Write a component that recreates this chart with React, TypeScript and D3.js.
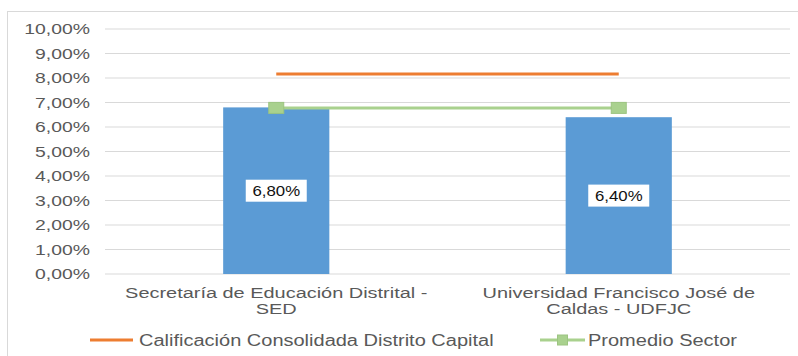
import React from "react";
import * as d3 from "d3";

const categories = ["Secretaría de Educación Distrital - SED", "Universidad Francisco José de Caldas - UDFJC"];
const categoryLines = [["Secretaría de Educación Distrital -", "SED"], ["Universidad Francisco José de", "Caldas - UDFJC"]];
const barValues = [6.8, 6.4];
const barLabels = ["6,80%", "6,40%"];
const consolidada = [8.16, 8.16];
const promedio = [6.78, 6.78];
const yTicks = [0, 1, 2, 3, 4, 5, 6, 7, 8, 9, 10];
const legendNames = ["Calificación Consolidada Distrito Capital", "Promedio Sector"];

const W = 798, H = 356;
const FONT = "'Liberation Sans', Arial, sans-serif";

function T({ x, y, anchor = "start", size = 16, sx = 1.25, fill = "#595959", children }: any) {
  return (
    <text transform={`translate(${x},${y}) scale(${sx},1)`} textAnchor={anchor} fontSize={size}
      fontFamily={FONT} fill={fill} dy="0.35em">{children}</text>
  );
}

export default function App() {
  const x = d3.scaleBand<string>().domain(categories).range([105, 790]).padding(0);
  const y = d3.scaleLinear().domain([0, 10]).range([274, 29]);
  const bw = x.bandwidth() * 0.31;
  const cx = (c: string) => (x(c) as number) + x.bandwidth() / 2;
  const lineGen = d3.line<number>().x((_, i) => cx(categories[i])).y((d) => y(d));
  const fmt = (v: number) => v.toFixed(2).replace(".", ",") + "%";

  return (
    <svg width={W} height={H} style={{ position: "absolute", left: 0, top: 0, background: "#fff" }}>
      <rect x={7.5} y={11.5} width={800} height={400} fill="#fff" stroke="#d9d9d9" />
      {yTicks.map((t) => (
        <g key={t}>
          <line x1={105} x2={790} y1={y(t)} y2={y(t)} stroke="#d9d9d9" strokeWidth={1} />
          <T x={90} y={y(t)} anchor="end" size={15.5}>{fmt(t)}</T>
        </g>
      ))}
      {categories.map((c, i) => (
        <rect key={c} x={cx(c) - bw / 2} y={y(barValues[i])} width={bw} height={y(0) - y(barValues[i])} fill="#5b9bd5" />
      ))}
      <path d={lineGen(consolidada) || ""} fill="none" stroke="#ed7d31" strokeWidth={3} />
      <path d={lineGen(promedio) || ""} fill="none" stroke="#a9d18e" strokeWidth={3} />
      {categories.map((c, i) => (
        <rect key={c} x={cx(c) - 7.5} y={y(promedio[i]) - 5.5} width={15} height={11} fill="#a9d18e" stroke="#9cc481" strokeWidth={1} />
      ))}
      {categories.map((c, i) => {
        const ly = y(barValues[i] / 2);
        return (
          <g key={c}>
            <rect x={cx(c) - 30.5} y={ly - 11} width={61} height={22} fill="#fff" />
            <T x={cx(c)} y={ly} anchor="middle" size={14} sx={1.2} fill="#111">{barLabels[i]}</T>
          </g>
        );
      })}
      {categories.map((c, i) => (
        <g key={c}>
          {categoryLines[i].map((ln, j) => (
            <T key={j} x={cx(c)} y={292.5 + j * 16} anchor="middle" size={15} sx={1.33}>{ln}</T>
          ))}
        </g>
      ))}
      <line x1={90} x2={133} y1={340} y2={340} stroke="#ed7d31" strokeWidth={3} />
      <T x={139} y={340} size={16}>{legendNames[0]}</T>
      <line x1={540} x2={585} y1={340} y2={340} stroke="#a9d18e" strokeWidth={3} />
      <rect x={557.5} y={335} width={10} height={10} fill="#a9d18e" stroke="#9cc481" strokeWidth={1} />
      <T x={588} y={340} size={16}>{legendNames[1]}</T>
    </svg>
  );
}
